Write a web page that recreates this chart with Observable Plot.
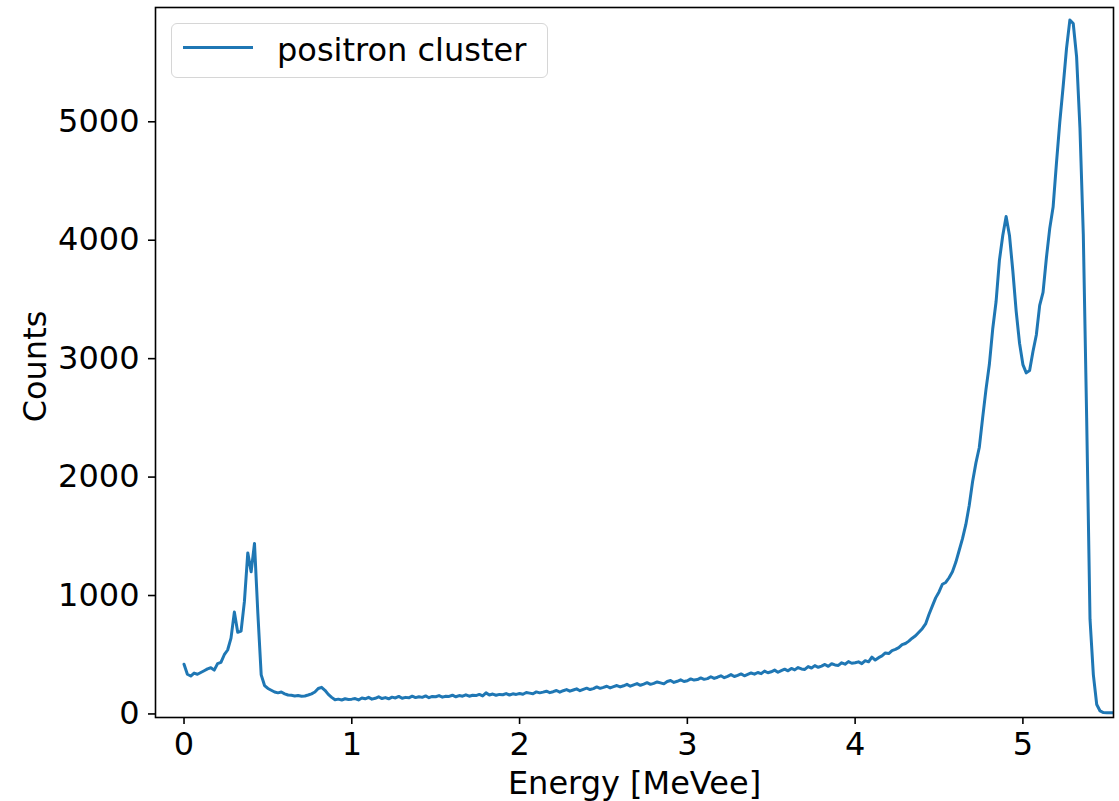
<!DOCTYPE html>
<html>
<head>
<meta charset="utf-8">
<script src="https://cdn.jsdelivr.net/npm/d3@7"></script>
<script src="https://cdn.jsdelivr.net/npm/@observablehq/plot@0.6"></script>
<style>
  body { margin: 0; background: #fff; }
  #wrap { position: relative; width: 1119px; height: 801px; font-family: "DejaVu Sans", sans-serif; }
  #legend { position: absolute; left: 171px; top: 23px; width: 375px; height: 53px;
            border: 1.5px solid #d6d6d6; border-radius: 6px; background: rgba(255,255,255,0.8); }
  #legend .sw { position: absolute; left: 11px; top: 22px; width: 70px; height: 3px; background: #1f77b4; }
  #legend .lb { position: absolute; left: 105px; top: 7px; font-size: 32px; color: #000; white-space: nowrap; }
</style>
</head>
<body>
<div id="wrap"></div>
<script>
const xLabel = "Energy [MeVee]";
const yLabel = "Counts";
const seriesName = "positron cluster";
const xTicks = [0, 1, 2, 3, 4, 5];
const yTicks = [0, 1000, 2000, 3000, 4000, 5000];

const energy = [
  0.00,0.02,0.04,0.06,0.08,0.10,0.12,0.14,0.16,0.18,
  0.20,0.22,0.24,0.26,0.28,0.30,0.32,0.34,0.36,0.38,
  0.40,0.42,0.44,0.46,0.48,0.50,0.52,0.54,0.56,0.58,
  0.60,0.62,0.64,0.66,0.68,0.70,0.72,0.74,0.76,0.78,
  0.80,0.82,0.84,0.86,0.88,0.90,0.92,0.94,0.96,0.98,
  1.00,1.02,1.04,1.06,1.08,1.10,1.12,1.14,1.16,1.18,
  1.20,1.22,1.24,1.26,1.28,1.30,1.32,1.34,1.36,1.38,
  1.40,1.42,1.44,1.46,1.48,1.50,1.52,1.54,1.56,1.58,
  1.60,1.62,1.64,1.66,1.68,1.70,1.72,1.74,1.76,1.78,
  1.80,1.82,1.84,1.86,1.88,1.90,1.92,1.94,1.96,1.98,
  2.00,2.02,2.04,2.06,2.08,2.10,2.12,2.14,2.16,2.18,
  2.20,2.22,2.24,2.26,2.28,2.30,2.32,2.34,2.36,2.38,
  2.40,2.42,2.44,2.46,2.48,2.50,2.52,2.54,2.56,2.58,
  2.60,2.62,2.64,2.66,2.68,2.70,2.72,2.74,2.76,2.78,
  2.80,2.82,2.84,2.86,2.88,2.90,2.92,2.94,2.96,2.98,
  3.00,3.02,3.04,3.06,3.08,3.10,3.12,3.14,3.16,3.18,
  3.20,3.22,3.24,3.26,3.28,3.30,3.32,3.34,3.36,3.38,
  3.40,3.42,3.44,3.46,3.48,3.50,3.52,3.54,3.56,3.58,
  3.60,3.62,3.64,3.66,3.68,3.70,3.72,3.74,3.76,3.78,
  3.80,3.82,3.84,3.86,3.88,3.90,3.92,3.94,3.96,3.98,
  4.00,4.02,4.04,4.06,4.08,4.10,4.12,4.14,4.16,4.18,
  4.20,4.22,4.24,4.26,4.28,4.30,4.32,4.34,4.36,4.38,
  4.40,4.42,4.44,4.46,4.48,4.50,4.52,4.54,4.56,4.58,
  4.60,4.62,4.64,4.66,4.68,4.70,4.72,4.74,4.76,4.78,
  4.80,4.82,4.84,4.86,4.88,4.90,4.92,4.94,4.96,4.98,
  5.00,5.02,5.04,5.06,5.08,5.10,5.12,5.14,5.16,5.18,
  5.20,5.22,5.24,5.26,5.28,5.30,5.32,5.34,5.36,5.38,
  5.40,5.42,5.44,5.46,5.48,5.50,5.52,5.54
];

const counts = [
  420, 335, 320, 345, 335, 350, 365, 380, 390, 370,
  425, 435, 500, 540, 640, 860, 690, 700, 950, 1360,
  1200, 1440, 850, 330, 240, 215, 200, 185, 178, 185,
  170, 160, 158, 152, 155, 150, 152, 160, 170, 185,
  215, 225, 200, 165, 140, 120, 125, 118, 128, 122,
  125, 130, 118, 135, 128, 140, 125, 132, 145, 130,
  138, 128, 142, 135, 148, 132, 140, 136, 150, 138,
  145, 140, 152, 137, 148, 145, 155, 142, 150, 148,
  158, 145, 155, 150, 162, 150, 158, 155, 165, 152,
  178, 160, 168, 158, 165, 162, 172, 160, 170, 165,
  172, 166, 181, 176, 170, 186, 178, 184, 192, 180,
  188, 198, 184, 196, 206, 192, 202, 212, 196, 208,
  218, 206, 214, 228, 216, 224, 234, 220, 230, 240,
  228, 238, 250, 234, 246, 256, 242, 252, 264, 250,
  258, 270, 262, 254, 274, 282, 266, 276, 288, 274,
  280, 296, 286, 290, 304, 292, 298, 314, 300, 310,
  322, 306, 318, 332, 316, 326, 338, 322, 334, 346,
  336, 350, 340, 362, 348, 356, 370, 352, 366, 378,
  364, 384, 372, 392, 380, 376, 400, 388, 408, 394,
  404, 418, 402, 424, 414, 410, 432, 420, 442, 428,
  432, 440, 425, 450, 440, 480, 455, 475, 490, 515,
  510, 535, 545, 560, 585, 595, 615, 640, 660, 690,
  720, 760, 840, 910, 980, 1030, 1095, 1110, 1150, 1200,
  1280, 1380, 1480, 1600, 1760, 1960, 2120, 2250, 2500, 2740,
  2950, 3250, 3480, 3830, 4040, 4200, 4040, 3740, 3400, 3130,
  2950, 2880, 2900, 3060, 3200, 3450, 3560, 3850, 4100, 4280,
  4650, 5000, 5300, 5620, 5860, 5830, 5550, 4950, 4050, 2500,
  800, 330, 80, 25, 12, 10, 10, 10
];

const data = energy.map((e, i) => ({energy: e, counts: counts[i]}));
const font = '"DejaVu Sans", sans-serif';

const chart = Plot.plot({
  width: 1119,
  height: 801,
  marginLeft: 155,
  marginRight: 6,
  marginTop: 7,
  marginBottom: 84,
  style: {fontFamily: font, fontSize: "32px", color: "#000", background: "#fff", overflow: "visible"},
  x: {domain: [-0.17, 5.54]},
  y: {domain: [-30, 5965]},
  marks: [
    Plot.line(data, {x: "energy", y: "counts", stroke: "#1f77b4", strokeWidth: 3, clip: true}),
    Plot.frame({stroke: "#000", strokeWidth: 1.6}),
    Plot.axisX({ticks: xTicks, tickSize: 7, tickPadding: 8, tickFormat: d => String(d), label: null,
                fontSize: 32, strokeWidth: 1.6}),
    Plot.axisY({ticks: yTicks, tickSize: 7, tickPadding: 9, tickFormat: d => String(d), label: null,
                fontSize: 32, strokeWidth: 1.6}),
    Plot.text([xLabel], {text: d => d, frameAnchor: "bottom", dy: 66, fontSize: 32, lineAnchor: "middle",
                         textAnchor: "middle", fill: "#000"}),
    Plot.text([yLabel], {text: d => d, frameAnchor: "left", dx: -120, dy: 4, rotate: -90, fontSize: 32,
                         lineAnchor: "middle", textAnchor: "middle", fill: "#000"})
  ]
});

const wrap = document.getElementById("wrap");
wrap.appendChild(chart);
const legend = document.createElement("div");
legend.id = "legend";
legend.innerHTML = '<div class="sw"></div><div class="lb"></div>';
legend.querySelector(".lb").textContent = seriesName;
wrap.appendChild(legend);
</script>
</body>
</html>
